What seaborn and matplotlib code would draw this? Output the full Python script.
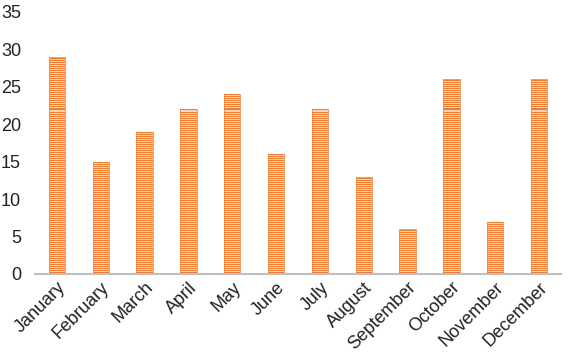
import matplotlib
matplotlib.use('Agg')
import matplotlib.pyplot as plt
import numpy as np
import pandas as pd
import seaborn as sns

# Data
months = ['January', 'February', 'March', 'April', 'May', 'June',
          'July', 'August', 'September', 'October', 'November', 'December']
values = [29, 15, 19, 22, 24, 16, 22, 13, 6, 26, 7, 26]
y_ticks = [0, 5, 10, 15, 20, 25, 30, 35]

df = pd.DataFrame({'month': months, 'value': values})

sns.set_style('white')
plt.rcParams['font.family'] = ['Liberation Sans', 'DejaVu Sans']

W, H, DPI = 568, 355, 100
fig = plt.figure(figsize=(W / DPI, H / DPI), dpi=DPI)
# axes box on whole pixels so the 1 px stripes stay crisp
ax_left, ax_bottom, ax_w, ax_h = 35, 81, 526, 262
ax = fig.add_axes([ax_left / W, ax_bottom / H, ax_w / W, ax_h / H])

orange = '#ED7D31'
light = '#FAD3B8'
y_max = 35
sns.barplot(data=df, x='month', y='value', color=light, width=0.37,
            saturation=1, ax=ax)

# horizontal stripe fill: 1 px orange line on every other pixel row, clipped to each bar
xlim = (-0.5, len(months) - 0.5)
row_y = (np.arange(0, ax_h, 2) + 0.5) * y_max / ax_h
for bar in ax.patches:
    bar.set_facecolor(light)
    bar.set_edgecolor(orange)
    bar.set_linewidth(0.5)
    lc = ax.hlines(row_y, xlim[0], xlim[1], colors=orange, linewidth=72 / DPI,
                   antialiased=False, zorder=bar.get_zorder() + 0.1)
    lc.set_clip_path(bar)

ax.set_ylim(0, y_max)
ax.set_xlim(*xlim)
ax.set_yticks(y_ticks)
ax.set_xlabel('')
ax.set_ylabel('')
for s in ['top', 'right', 'left']:
    ax.spines[s].set_visible(False)
ax.spines['bottom'].set_color('#BFBFBF')
ax.spines['bottom'].set_linewidth(1.5)
ax.spines['bottom'].set_zorder(5)
ax.tick_params(axis='both', length=0, labelsize=13, colors='#222222')
ax.tick_params(axis='y', pad=10)
ax.set_xticks(range(len(months)))
ax.set_xticklabels(months, rotation=45, ha='right', rotation_mode='anchor')

plt.savefig('out.png', dpi=DPI)
